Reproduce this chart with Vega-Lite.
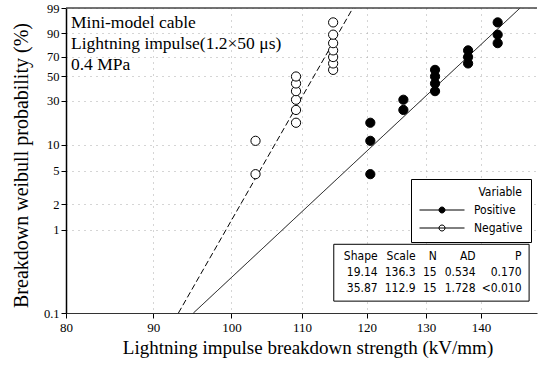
{
  "$schema": "https://vega.github.io/schema/vega-lite/v6.json",
  "width": 471,
  "height": 305,
  "autosize": "none",
  "padding": {"left": 66, "top": 8, "right": 1, "bottom": 52},
  "background": "white",
  "config": {"view": {"stroke": null}, "axis": {"labelOverlap": false}},
  "datasets": {
    "points": [
      {"Variable": "Negative", "kv": 103.3, "pct": 4.5, "weibull": -3.068},
      {"Variable": "Negative", "kv": 103.3, "pct": 11.0, "weibull": -2.146},
      {"Variable": "Negative", "kv": 109.1, "pct": 17.5, "weibull": -1.646},
      {"Variable": "Negative", "kv": 109.1, "pct": 24.0, "weibull": -1.292},
      {"Variable": "Negative", "kv": 109.1, "pct": 30.5, "weibull": -1.010},
      {"Variable": "Negative", "kv": 109.1, "pct": 37.0, "weibull": -0.772},
      {"Variable": "Negative", "kv": 109.1, "pct": 43.5, "weibull": -0.560},
      {"Variable": "Negative", "kv": 109.1, "pct": 50.0, "weibull": -0.367},
      {"Variable": "Negative", "kv": 114.7, "pct": 56.5, "weibull": -0.184},
      {"Variable": "Negative", "kv": 114.7, "pct": 63.0, "weibull": -0.006},
      {"Variable": "Negative", "kv": 114.7, "pct": 69.5, "weibull": 0.171},
      {"Variable": "Negative", "kv": 114.7, "pct": 76.0, "weibull": 0.355},
      {"Variable": "Negative", "kv": 114.7, "pct": 82.5, "weibull": 0.555},
      {"Variable": "Negative", "kv": 114.7, "pct": 89.0, "weibull": 0.790},
      {"Variable": "Negative", "kv": 114.7, "pct": 95.5, "weibull": 1.129},
      {"Variable": "Positive", "kv": 120.6, "pct": 4.5, "weibull": -3.068},
      {"Variable": "Positive", "kv": 120.6, "pct": 11.0, "weibull": -2.146},
      {"Variable": "Positive", "kv": 120.6, "pct": 17.5, "weibull": -1.646},
      {"Variable": "Positive", "kv": 126.1, "pct": 24.0, "weibull": -1.292},
      {"Variable": "Positive", "kv": 126.1, "pct": 30.5, "weibull": -1.010},
      {"Variable": "Positive", "kv": 131.6, "pct": 37.0, "weibull": -0.772},
      {"Variable": "Positive", "kv": 131.6, "pct": 43.5, "weibull": -0.560},
      {"Variable": "Positive", "kv": 131.6, "pct": 50.0, "weibull": -0.367},
      {"Variable": "Positive", "kv": 131.6, "pct": 56.5, "weibull": -0.184},
      {"Variable": "Positive", "kv": 137.6, "pct": 63.0, "weibull": -0.006},
      {"Variable": "Positive", "kv": 137.6, "pct": 69.5, "weibull": 0.171},
      {"Variable": "Positive", "kv": 137.6, "pct": 76.0, "weibull": 0.355},
      {"Variable": "Positive", "kv": 143.2, "pct": 82.5, "weibull": 0.555},
      {"Variable": "Positive", "kv": 143.2, "pct": 89.0, "weibull": 0.790},
      {"Variable": "Positive", "kv": 143.2, "pct": 95.5, "weibull": 1.129}
    ],
    "fits": [
      {"Variable": "Positive", "kv": 95.0, "pct": 0.1, "weibull": -6.9073},
      {"Variable": "Positive", "kv": 147.6, "pct": 99, "weibull": 1.5272},
      {"Variable": "Negative", "kv": 93.1, "pct": 0.1, "weibull": -6.9073},
      {"Variable": "Negative", "kv": 117.8, "pct": 99, "weibull": 1.5272}
    ],
    "stats": [
      {"Variable": "Positive", "Shape": "19.14", "Scale": "136.3", "N": "15", "AD": "0.534", "P": "0.170"},
      {"Variable": "Negative", "Shape": "35.87", "Scale": "112.9", "N": "15", "AD": "1.728", "P": "<0.010"}
    ]
  },
  "layer": [
    {
      "layer": [
        {
          "data": {"name": "fits"},
          "mark": {"type": "line", "color": "black", "strokeWidth": 1},
          "encoding": {
            "x": {
              "field": "kv", "type": "quantitative",
              "scale": {"type": "log", "domain": [80, 151], "nice": false},
              "axis": {
                "values": [80, 90, 100, 110, 120, 130, 140],
                "tickCount": 20,
                "format": "d",
                "title": "Lightning impulse breakdown strength (kV/mm)",
                "titleFont": "Liberation Serif", "titleFontSize": 19, "titleFontWeight": "normal", "titleColor": "black",
                "titleX": 241.5, "titleY": 40, "titleBaseline": "alphabetic", "titleAlign": "center",
                "labelFont": "Liberation Serif", "labelFontSize": 13, "labelColor": "black", "labelPadding": 3,
                "labelFlush": false, "labelOverlap": false,
                "tickSize": 5, "tickColor": "black", "domainColor": "#333", "domainWidth": 1.2,
                "grid": true, "gridColor": "#aaa", "gridDash": [1, 5], "gridWidth": 1
              }
            },
            "y": {
              "field": "weibull", "type": "quantitative",
              "scale": {"domain": [-6.9073, 1.5272], "nice": false, "zero": false},
              "axis": {
                "values": [-6.9073, -4.6001, -3.9019, -2.9702, -2.2504, -1.0309, -0.3665, 0.1856, 0.834, 1.5272],
                "tickCount": 20,
                "labelExpr": "format((1 - exp(-exp(datum.value))) * 100, '.2~r')",
                "title": "Breakdown weibull probability (%)",
                "titleFont": "Liberation Serif", "titleFontSize": 20, "titleFontWeight": "normal", "titleColor": "black",
                "titleX": -39, "titleY": 157, "titleAngle": -90, "titleBaseline": "alphabetic", "titleAlign": "center",
                "labelFont": "Liberation Serif", "labelFontSize": 12.5, "labelColor": "black", "labelPadding": 2,
                "labelOverlap": false, "labelFlush": false,
                "tickSize": 5, "tickColor": "black", "domainColor": "black", "domainWidth": 1.5,
                "grid": true, "gridColor": "#aaa", "gridDash": [1, 5], "gridWidth": 1
              }
            },
            "strokeDash": {
              "field": "Variable", "type": "nominal",
              "scale": {"domain": ["Negative", "Positive"], "range": [[6, 3], [1, 0]]},
              "legend": null
            }
          }
        },
        {
          "data": {"name": "points"},
          "mark": {"type": "point", "shape": "circle", "size": 85, "stroke": "black", "strokeWidth": 1, "opacity": 1},
          "encoding": {
            "x": {"field": "kv", "type": "quantitative"},
            "y": {"field": "weibull", "type": "quantitative"},
            "fill": {
              "field": "Variable", "type": "nominal",
              "scale": {"domain": ["Positive", "Negative"], "range": ["black", "white"]},
              "legend": {
                "orient": "none", "legendX": 345, "legendY": 171,
                "title": "Variable", "titleAnchor": "end",
                "titleFont": "DejaVu Sans Condensed, Liberation Sans, sans-serif", "titleFontSize": 12, "titleFontWeight": "normal", "titleColor": "black", "titlePadding": 5,
                "labelFont": "DejaVu Sans Condensed, Liberation Sans, sans-serif", "labelFontSize": 12, "labelColor": "black",
                "symbolType": "M-1.1,0H7.9M2.8,0A0.6,0.6 0 1,1 4,0A0.6,0.6 0 1,1 2.8,0Z",
                "symbolSize": 100, "labelOffset": 43, "rowPadding": 6, "padding": 8,
                "symbolStrokeColor": "black", "symbolStrokeWidth": 1,
                "strokeColor": "black", "fillColor": "white"
              }
            }
          }
        },
        {
          "data": {"values": [{}]},
          "mark": {"type": "rule", "color": "#444", "strokeWidth": 1.5},
          "encoding": {
            "x": {"datum": 80, "type": "quantitative"},
            "x2": {"datum": 151},
            "y": {"datum": 1.5272, "type": "quantitative"}
          }
        },
        {
          "data": {"values": [{}]},
          "mark": {"type": "rect", "fill": "white", "stroke": "black", "strokeWidth": 1},
          "encoding": {
            "x": {"datum": 114.8, "type": "quantitative"},
            "x2": {"datum": 149.4},
            "y": {"datum": -5.007, "type": "quantitative"},
            "y2": {"datum": -6.579}
          }
        },
        {
          "data": {"values": [{}]},
          "mark": {
            "type": "text", "align": "left", "baseline": "alphabetic",
            "font": "Liberation Serif", "fontSize": 17.5, "lineHeight": 21, "color": "black",
            "text": ["Mini-model cable", "Lightning impulse(1.2×50 μs)", "0.4 MPa"]
          },
          "encoding": {
            "x": {"datum": 80.54, "type": "quantitative"},
            "y": {"datum": 0.976, "type": "quantitative"}
          }
        }
      ]
    },
    {
      "data": {"name": "stats"},
      "encoding": {
        "y": {
          "field": "Variable", "type": "nominal",
          "scale": {"type": "point", "domain": ["Header", "Positive", "Negative"], "range": [252, 284], "padding": 0},
          "axis": null
        }
      },
      "layer": [
        {"mark": {"type": "text", "align": "right", "baseline": "alphabetic", "font": "DejaVu Sans Condensed, Liberation Sans, sans-serif", "fontSize": 12, "color": "black"},
         "encoding": {"x": {"datum": 121.8, "type": "quantitative"}, "text": {"field": "Shape"}}},
        {"mark": {"type": "text", "align": "right", "baseline": "alphabetic", "font": "DejaVu Sans Condensed, Liberation Sans, sans-serif", "fontSize": 12, "color": "black"},
         "encoding": {"x": {"datum": 128.2, "type": "quantitative"}, "text": {"field": "Scale"}}},
        {"mark": {"type": "text", "align": "right", "baseline": "alphabetic", "font": "DejaVu Sans Condensed, Liberation Sans, sans-serif", "fontSize": 12, "color": "black"},
         "encoding": {"x": {"datum": 131.9, "type": "quantitative"}, "text": {"field": "N"}}},
        {"mark": {"type": "text", "align": "right", "baseline": "alphabetic", "font": "DejaVu Sans Condensed, Liberation Sans, sans-serif", "fontSize": 12, "color": "black"},
         "encoding": {"x": {"datum": 139.0, "type": "quantitative"}, "text": {"field": "AD"}}},
        {"mark": {"type": "text", "align": "right", "baseline": "alphabetic", "font": "DejaVu Sans Condensed, Liberation Sans, sans-serif", "fontSize": 12, "color": "black"},
         "encoding": {"x": {"datum": 147.9, "type": "quantitative"}, "text": {"field": "P"}}},
        {"data": {"values": [{}]},
         "mark": {"type": "text", "align": "right", "baseline": "alphabetic", "font": "DejaVu Sans Condensed, Liberation Sans, sans-serif", "fontSize": 12, "color": "black", "text": "Shape"},
         "encoding": {"x": {"datum": 121.8, "type": "quantitative"}, "y": {"datum": "Header", "type": "nominal", "axis": null}}},
        {"data": {"values": [{}]},
         "mark": {"type": "text", "align": "right", "baseline": "alphabetic", "font": "DejaVu Sans Condensed, Liberation Sans, sans-serif", "fontSize": 12, "color": "black", "text": "Scale"},
         "encoding": {"x": {"datum": 128.2, "type": "quantitative"}, "y": {"datum": "Header", "type": "nominal", "axis": null}}},
        {"data": {"values": [{}]},
         "mark": {"type": "text", "align": "right", "baseline": "alphabetic", "font": "DejaVu Sans Condensed, Liberation Sans, sans-serif", "fontSize": 12, "color": "black", "text": "N"},
         "encoding": {"x": {"datum": 131.9, "type": "quantitative"}, "y": {"datum": "Header", "type": "nominal", "axis": null}}},
        {"data": {"values": [{}]},
         "mark": {"type": "text", "align": "right", "baseline": "alphabetic", "font": "DejaVu Sans Condensed, Liberation Sans, sans-serif", "fontSize": 12, "color": "black", "text": "AD"},
         "encoding": {"x": {"datum": 139.0, "type": "quantitative"}, "y": {"datum": "Header", "type": "nominal", "axis": null}}},
        {"data": {"values": [{}]},
         "mark": {"type": "text", "align": "right", "baseline": "alphabetic", "font": "DejaVu Sans Condensed, Liberation Sans, sans-serif", "fontSize": 12, "color": "black", "text": "P"},
         "encoding": {"x": {"datum": 147.9, "type": "quantitative"}, "y": {"datum": "Header", "type": "nominal", "axis": null}}}
      ]
    }
  ],
  "resolve": {"scale": {"y": "independent"}}
}
